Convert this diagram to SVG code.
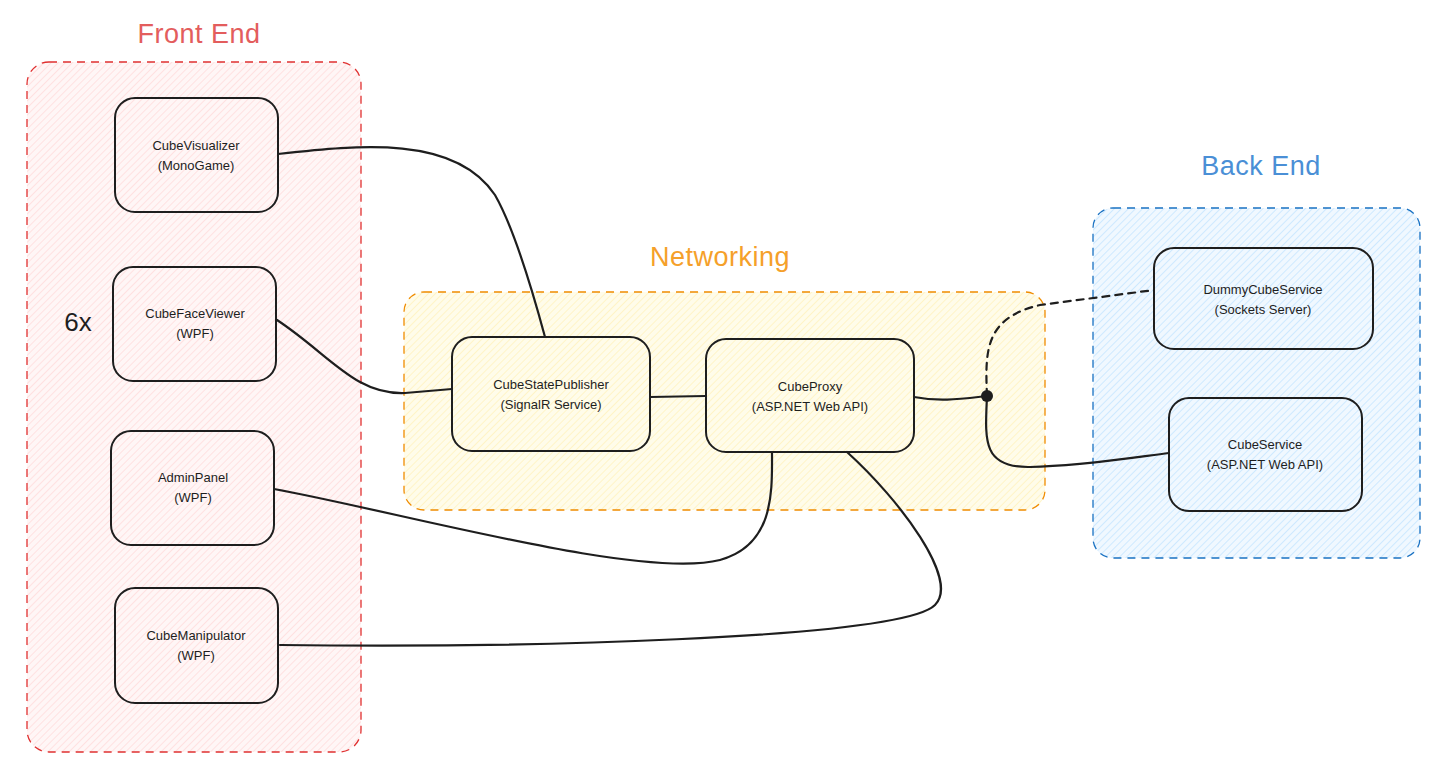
<svg xmlns="http://www.w3.org/2000/svg" width="1439" height="768" viewBox="0 0 1439 768">
<style>
.node{fill:none;stroke:#1e1e1e;stroke-width:2}
.lbl{font-family:"Liberation Sans",Arial,sans-serif;font-size:13px;fill:#1e1e1e;text-anchor:middle}
.title{font-family:"Liberation Sans",Arial,sans-serif;font-size:27px;text-anchor:middle;letter-spacing:0.5px}
.conn{fill:none;stroke:#1e1e1e;stroke-width:2.2;stroke-linecap:round}
.grp{stroke-width:1.3;stroke-dasharray:8 6}
</style>
<defs>
<pattern id="hRed" width="5" height="5" patternUnits="userSpaceOnUse" patternTransform="rotate(45)">
<rect width="5" height="5" fill="#fff6f6"/><line x1="0" y1="0" x2="0" y2="5" stroke="#ffd3d3" stroke-width="1.2"/>
</pattern>
<pattern id="hYel" width="5" height="5" patternUnits="userSpaceOnUse" patternTransform="rotate(45)">
<rect width="5" height="5" fill="#fffcea"/><line x1="0" y1="0" x2="0" y2="5" stroke="#fff0b0" stroke-width="1.2"/>
</pattern>
<pattern id="hBlu" width="5" height="5" patternUnits="userSpaceOnUse" patternTransform="rotate(45)">
<rect width="5" height="5" fill="#f0f8ff"/><line x1="0" y1="0" x2="0" y2="5" stroke="#b8e0ff" stroke-width="1.2"/>
</pattern>
</defs>
<rect width="1439" height="768" fill="#ffffff"/>

<g id="group-frontend">
<rect x="27" y="62" width="334" height="690" rx="22" fill="url(#hRed)" stroke="#e03131" class="grp"/>
<text x="199" y="43" class="title" fill="#e35d5d">Front End</text>
</g>
<g id="group-networking">
<rect x="404" y="292" width="641" height="218" rx="20" fill="url(#hYel)" stroke="#f08c00" class="grp"/>
<text x="720" y="266" class="title" fill="#f5a02a">Networking</text>
</g>
<g id="group-backend">
<rect x="1093" y="208" width="327" height="350" rx="20" fill="url(#hBlu)" stroke="#1971c2" class="grp"/>
<text x="1261" y="175" class="title" fill="#4a8fd6">Back End</text>
</g>

<g id="connectors">
<path class="conn" d="M278,154 C360,145 455,135 495,195 C515,230 535,300 545,337"/>
<path class="conn" d="M277,320 C330,355 355,395 405,393 L452,389"/>
<path class="conn" d="M650,397 L706,396"/>
<path class="conn" d="M914,397 C940,402 960,399 987,396"/>
<path class="conn" d="M987,396 C985,350 985,318 1040,305 L1154,290" stroke-dasharray="7 6" stroke-linecap="butt"/>
<path class="conn" d="M987,396 C985,440 982,468 1030,467 C1080,466 1130,458 1169,453" stroke-width="2.6"/>
<path class="conn" d="M274,489 C400,512 640,580 720,560 C775,545 772,490 772,452"/>
<path class="conn" d="M280,645 C500,648 900,640 935,605 C960,580 900,500 847,452"/>
<circle cx="987" cy="396" r="6" fill="#1e1e1e"/>
</g>

<g id="node-cubevisualizer">
<rect class="node" x="115" y="98" width="163" height="114" rx="20"/>
<text class="lbl" x="196" y="150">CubeVisualizer</text>
<text class="lbl" x="196" y="170">(MonoGame)</text>
</g>
<g id="node-cubefaceviewer">
<rect class="node" x="113" y="267" width="163" height="114" rx="20"/>
<text class="lbl" x="195" y="318">CubeFaceViewer</text>
<text class="lbl" x="195" y="338">(WPF)</text>
</g>
<text x="78" y="331" font-family="Liberation Sans,Arial,sans-serif" font-size="26" fill="#1e1e1e" text-anchor="middle">6x</text>
<g id="node-adminpanel">
<rect class="node" x="111" y="431" width="163" height="114" rx="20"/>
<text class="lbl" x="193" y="482">AdminPanel</text>
<text class="lbl" x="193" y="502">(WPF)</text>
</g>
<g id="node-cubemanipulator">
<rect class="node" x="115" y="588" width="163" height="115" rx="20"/>
<text class="lbl" x="196" y="640">CubeManipulator</text>
<text class="lbl" x="196" y="660">(WPF)</text>
</g>
<g id="node-cubestatepublisher">
<rect class="node" x="452" y="337" width="198" height="114" rx="20"/>
<text class="lbl" x="551" y="389">CubeStatePublisher</text>
<text class="lbl" x="551" y="409">(SignalR Service)</text>
</g>
<g id="node-cubeproxy">
<rect class="node" x="706" y="339" width="208" height="113" rx="20"/>
<text class="lbl" x="810" y="391">CubeProxy</text>
<text class="lbl" x="810" y="411">(ASP.NET Web API)</text>
</g>
<g id="node-dummycubeservice">
<rect class="node" x="1154" y="248" width="219" height="101" rx="20"/>
<text class="lbl" x="1263" y="294">DummyCubeService</text>
<text class="lbl" x="1263" y="314">(Sockets Server)</text>
</g>
<g id="node-cubeservice">
<rect class="node" x="1169" y="398" width="193" height="113" rx="20"/>
<text class="lbl" x="1265" y="449">CubeService</text>
<text class="lbl" x="1265" y="469">(ASP.NET Web API)</text>
</g>
</svg>
